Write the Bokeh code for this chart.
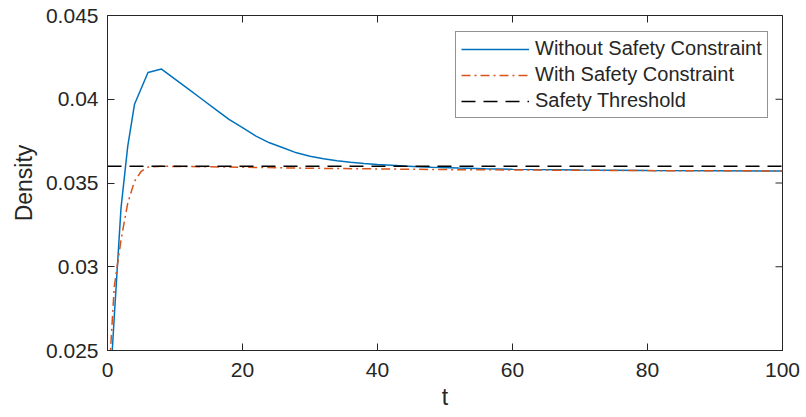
import math
from bokeh.plotting import figure
from bokeh.models import FixedTicker, Range1d, Legend, LegendItem
from bokeh.embed import file_html
from bokeh.resources import INLINE

# ---- data ----
t_without = [0, 1, 2, 3, 4, 6, 8, 10, 12, 14, 16, 18, 20, 22, 24, 26, 28, 30,
             32, 34, 36, 38, 40, 42, 44, 46, 48, 52, 56, 60, 70, 80, 90, 100]
d_without = [0.0202, 0.0270, 0.0335, 0.0372, 0.0397, 0.0416, 0.0418, 0.0412,
             0.0406, 0.0400, 0.0394, 0.0388, 0.0383, 0.0378, 0.0374, 0.0371,
             0.0368, 0.0366, 0.03645, 0.03633, 0.03624, 0.03617, 0.03611,
             0.03606, 0.03601, 0.03597, 0.03594, 0.03589, 0.03585, 0.03582,
             0.03577, 0.03574, 0.03573, 0.03572]

t_with = [0, 1, 2, 3, 4, 5, 6, 8, 10, 15, 20, 30, 40, 50, 60, 80, 100]
d_with = [0.0220, 0.0288, 0.0316, 0.0338, 0.0351, 0.0357, 0.03595, 0.03600,
          0.03599, 0.03597, 0.03594, 0.03588, 0.03584, 0.03580, 0.03578,
          0.03574, 0.03572]

t_thresh = [0, 100]
d_thresh = [0.036, 0.036]

x_limits = [0, 100]
y_limits = [0.025, 0.045]
x_ticks = [0, 20, 40, 60, 80, 100]
y_ticks = [0.025, 0.03, 0.035, 0.04, 0.045]
y_tick_labels = ["0.025", "0.03", "0.035", "0.04", "0.045"]

series_names = ["Without Safety Constraint", "With Safety Constraint", "Safety Threshold"]

# ---- style ----
FONT = "Liberation Sans"
AX = "#262626"
BLUE = "#0072BD"
ORANGE = "#D95319"
TICK = 7

p = figure(width=806, height=417, output_backend="svg", toolbar_location=None,
           x_range=Range1d(*x_limits), y_range=Range1d(*y_limits),
           min_border_left=107, min_border_right=24, min_border_top=15,
           min_border_bottom=67)
p.background_fill_color = "white"
p.border_fill_color = "white"
p.outline_line_color = AX
p.outline_line_width = 1
p.xgrid.visible = False
p.ygrid.visible = False

r1 = p.line(t_without, d_without, line_color=BLUE, line_width=1.5)
r2 = p.line(t_with, d_with, line_color=ORANGE, line_width=1.5, line_dash="9 4 2 4")
r3 = p.line(t_thresh, d_thresh, line_color="black", line_width=1.5, line_dash="14 8")

# box ticks on the top and right edges (half of each dash is clipped by the frame)
p.scatter(x_ticks, [y_limits[1]] * len(x_ticks), marker="dash", size=2 * TICK,
          angle=math.pi / 2, line_color=AX, line_width=1)
p.scatter([x_limits[1]] * len(y_ticks), y_ticks, marker="dash", size=2 * TICK,
          line_color=AX, line_width=1)

for ax in (p.xaxis[0], p.yaxis[0]):
    ax.axis_line_color = AX
    ax.major_tick_line_color = AX
    ax.major_tick_in = TICK
    ax.major_tick_out = 0
    ax.minor_tick_line_color = None
    ax.major_label_text_font = FONT
    ax.major_label_text_color = AX
    ax.major_label_text_font_size = "21px"
    ax.axis_label_text_font = FONT
    ax.axis_label_text_font_style = "normal"
    ax.axis_label_text_color = AX
    ax.axis_label_text_font_size = "23px"

p.xaxis.ticker = FixedTicker(ticks=x_ticks)
p.yaxis.ticker = FixedTicker(ticks=y_ticks)
p.yaxis.major_label_overrides = {v: s for v, s in zip(y_ticks, y_tick_labels)}
p.xaxis.major_label_standoff = 12
p.yaxis.major_label_standoff = 9
p.xaxis.axis_label = "t"
p.yaxis.axis_label = "Density"
p.xaxis.axis_label_standoff = 4
p.yaxis.axis_label_standoff = 6

legend = Legend(items=[LegendItem(label=series_names[0], renderers=[r1]),
                       LegendItem(label=series_names[1], renderers=[r2]),
                       LegendItem(label=series_names[2], renderers=[r3])],
                location=(348, 232))
legend.label_text_font = FONT
legend.label_text_font_size = "20px"
legend.label_text_color = AX
legend.glyph_width = 68
legend.glyph_height = 20
legend.label_height = 20
legend.label_standoff = 6
legend.spacing = 3
legend.padding = 5
legend.margin = 0
legend.border_line_color = AX
legend.border_line_width = 1
legend.background_fill_color = "white"
legend.background_fill_alpha = 1
p.add_layout(legend, "center")

open("out.html", "w").write(file_html(p, INLINE))
